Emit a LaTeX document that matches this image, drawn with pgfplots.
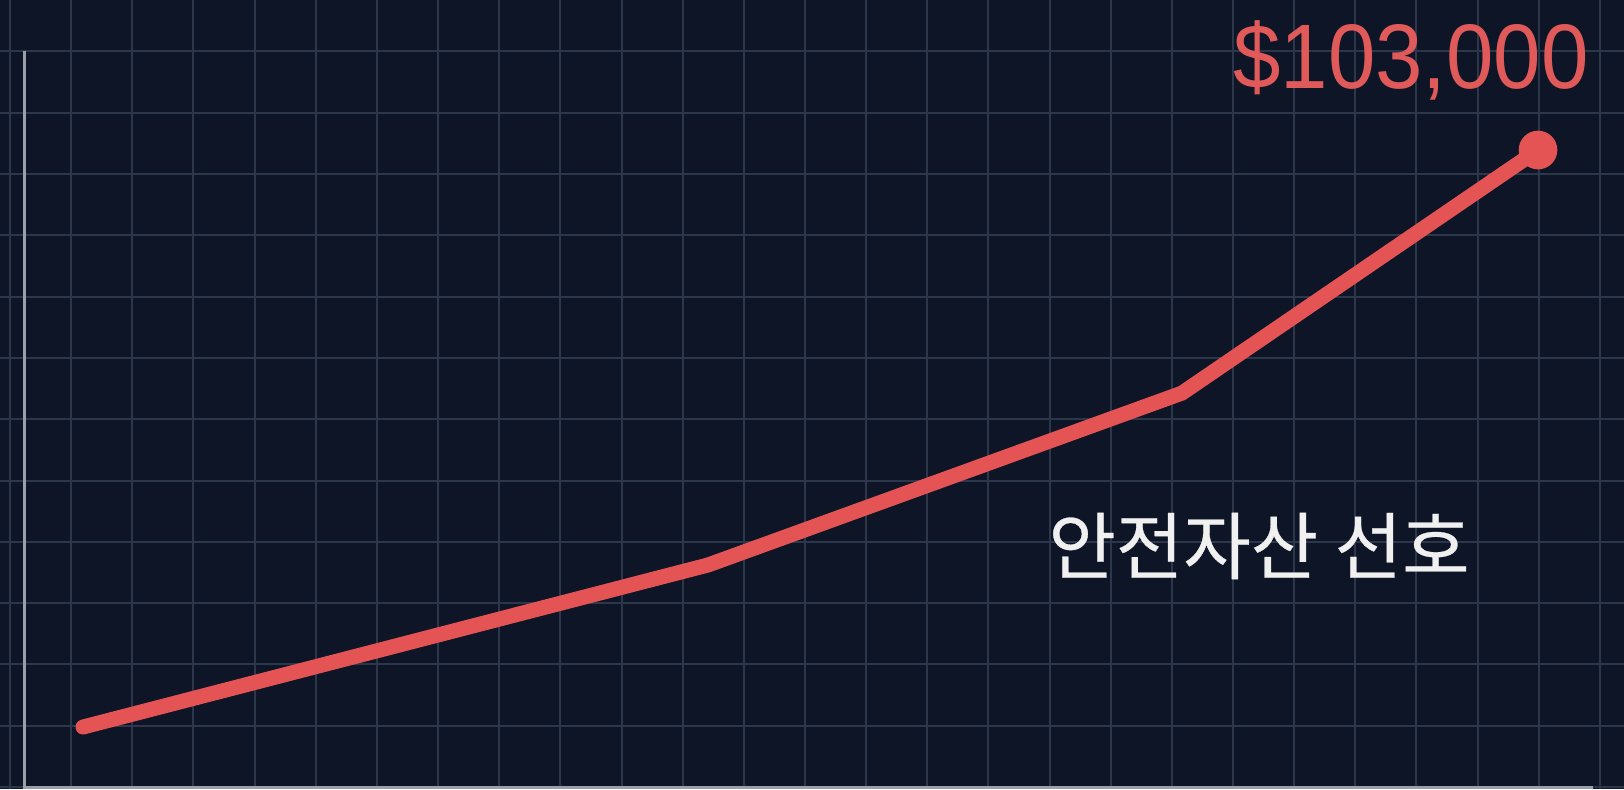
\documentclass[border=0pt]{standalone}
\usepackage{pgfplots}
\pgfplotsset{compat=1.18}
\usepackage{fontspec}
\setmainfont{Liberation Sans}
\newfontfamily\krfont[FakeBold=0.4]{Noto Sans CJK KR}

\definecolor{bgcol}{HTML}{0D1526}
\definecolor{gridcol}{HTML}{2C374B}
\definecolor{linecol}{HTML}{E55454}
\definecolor{labcol}{HTML}{E05A5A}
\definecolor{axcol}{HTML}{9AA0AA}

\begin{document}
\begin{tikzpicture}
\begin{axis}[
    name=ax,
    scale only axis,
    width=487.2pt, height=236.7pt,
    xmin=-10, xmax=1614,
    ymin=-323, ymax=127258,
    axis background/.style={fill=bgcol},
    axis line style={draw=none},
    tick style={draw=none},
    xtick distance=61.15, ytick distance=9912,
    xticklabels={}, yticklabels={},
    scaled y ticks=false, scaled x ticks=false,
    grid=major,
    major grid style={gridcol, line width=0.6pt},
    clip=false,
]
    % axis lines
    \addplot[axcol, line width=0.9pt] coordinates {(14,118944) (14,0) (1583,0)};

    % price path
    \addplot[linecol, line width=4.5pt, line cap=round, line join=round]
        coordinates {(73,9700) (698,35900) (1172,63700) (1528,103000)};
    \addplot[linecol, only marks, mark=*, mark size=5.6pt, mark options={fill=linecol, draw=linecol}]
        coordinates {(1528,103000)};

    \node[text=labcol, font=\fontsize{27.5}{30}\selectfont] at (axis cs:1401,117500)
        {\scalebox{0.93}[1]{\$103,000}};
    \node[text=white!94!black, font=\krfont\fontsize{22}{26}\selectfont] at (axis cs:1249,38970)
        {안전자산 선호};
\end{axis}
\pgfresetboundingbox
\useasboundingbox (ax.south west) rectangle (ax.north east);
\end{tikzpicture}
\end{document}
